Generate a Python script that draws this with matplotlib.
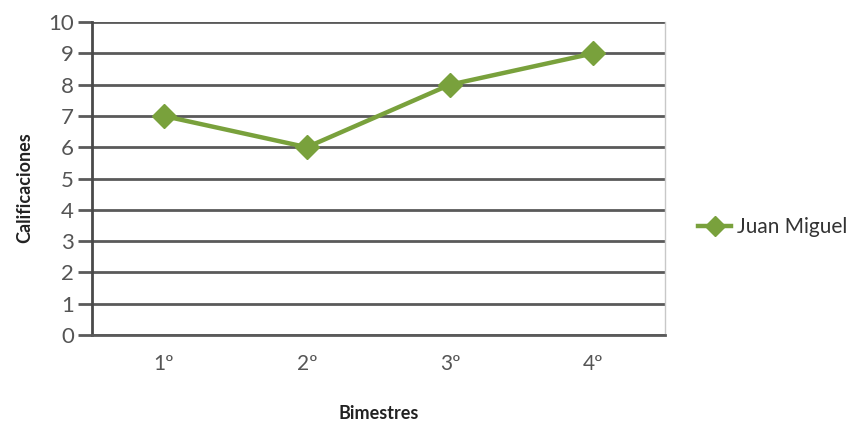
import matplotlib.pyplot as plt

# Calificaciones por bimestre
bimestres = ["1º", "2º", "3º", "4º"]
calificaciones = [7, 6, 8, 9]
alumno = "Juan Miguel"

plt.rcParams["font.family"] = ["Lato", "DejaVu Sans"]

fig = plt.figure(figsize=(8.64, 4.25), dpi=100)
ax = fig.add_axes([0.1065, 0.212, 0.663, 0.736])

x = range(len(bimestres))
ax.plot(x, calificaciones, color="#79A13C", linewidth=3.2, marker="D",
        markersize=12, label=alumno, zorder=3)

ax.set_xlim(-0.5, len(bimestres) - 0.5)
ax.set_ylim(0, 10)
ax.set_yticks(range(0, 11))
ax.set_xticks(list(x))
ax.set_xticklabels(bimestres)

# Líneas de división horizontales
ax.grid(axis="y", color="#5a5a5a", linewidth=2)
ax.set_axisbelow(True)

ax.spines["top"].set_visible(False)
ax.spines["right"].set_color("#c8c8c8")
ax.spines["right"].set_linewidth(1)
ax.spines["left"].set_color("#4a4a4a")
ax.spines["left"].set_linewidth(2)
ax.spines["bottom"].set_color("#5a5a5a")
ax.spines["bottom"].set_linewidth(2)

ax.tick_params(axis="y", length=10, width=2, color="#5a5a5a",
               labelsize=16, labelcolor="#555555", pad=3)
ax.tick_params(axis="x", length=0, labelsize=15, labelcolor="#555555", pad=14)

ax.set_xlabel("Bimestres", fontsize=13, fontweight="bold", labelpad=22, color="#222222")
ax.set_ylabel("Calificaciones", fontsize=13, fontweight="bold", color="#222222")
ax.yaxis.set_label_coords(-0.103, 0.47)

fig.legend(loc="center left", bbox_to_anchor=(0.786, 0.465), frameon=False,
           fontsize=15, handlelength=1.6, handletextpad=0.3, markerscale=0.85,
           labelcolor="#333333")

plt.savefig("out.png", dpi=100)
